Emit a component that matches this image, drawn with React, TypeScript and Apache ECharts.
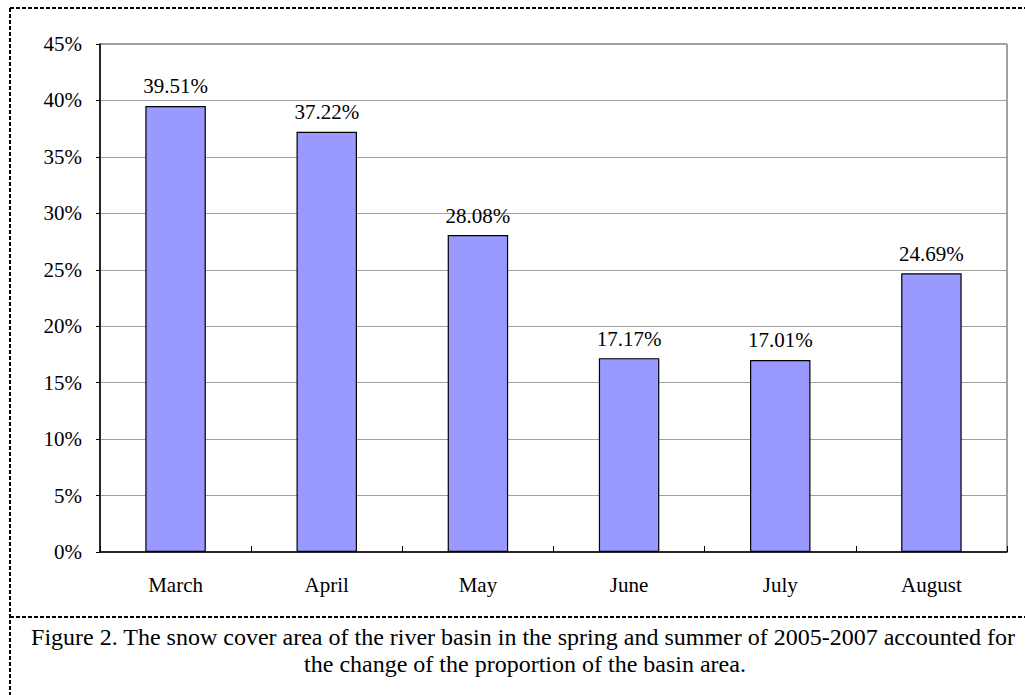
import React, { useEffect, useRef } from "react";
import * as echarts from "echarts";

const categories = ["March", "April", "May", "June", "July", "August"];
const values = [39.51, 37.22, 28.08, 17.17, 17.01, 24.69];
const captionLine1 =
  "Figure 2. The snow cover area of the river basin in the spring and summer of 2005-2007 accounted for";
const captionLine2 = "the change of the proportion of the basin area.";

const FONT = "Liberation Serif";
const CAP_SIZE = 24;

export default function App() {
  const ref = useRef<HTMLDivElement>(null);
  useEffect(() => {
    if (!ref.current) return;
    const chart = echarts.init(ref.current, null, { renderer: "svg" });
    const dash = { stroke: "#000", lineWidth: 2, lineDash: [4, 2] };
    const capStyle = {
      fontSize: CAP_SIZE,
      fontFamily: FONT,
      fill: "#000",
      align: "center",
      verticalAlign: "middle",
    };

    chart.setOption({
      animation: false,
      backgroundColor: "#fff",
      textStyle: { fontFamily: FONT },
      grid: {
        left: 100,
        right: 18,
        top: 44,
        bottom: 143,
        show: true,
        borderColor: "#404040",
        borderWidth: 1,
      },
      xAxis: {
        type: "category",
        data: categories,
        boundaryGap: true,
        axisLine: { lineStyle: { color: "#000", width: 1.5 } },
        axisTick: { show: true, inside: true, length: 6, alignWithLabel: false, lineStyle: { color: "#000" } },
        axisLabel: { color: "#000", fontSize: 21, fontFamily: FONT, margin: 22 },
        splitLine: { show: false },
      },
      yAxis: {
        type: "value",
        min: 0,
        max: 45,
        interval: 5,
        axisLine: { show: true, lineStyle: { color: "#000", width: 1.5 } },
        axisTick: { show: true, inside: false, length: 4, lineStyle: { color: "#000" } },
        axisLabel: {
          color: "#000",
          fontSize: 21,
          fontFamily: FONT,
          margin: 18,
          formatter: (v: number) => `${v}%`,
        },
        splitLine: { show: true, lineStyle: { color: "#a0a0a0", width: 1 } },
      },
      series: [
        {
          type: "bar",
          data: values,
          barWidth: "40%",
          itemStyle: { color: "#9999FF", borderColor: "#000", borderWidth: 1.2 },
          label: {
            show: true,
            position: "top",
            distance: 9,
            color: "#000",
            fontSize: 21,
            fontFamily: FONT,
            formatter: (p: any) => `${p.value.toFixed(2)}%`,
          },
        },
      ],
      graphic: [
        { type: "line", shape: { x1: 10, y1: 8, x2: 1025, y2: 8 }, style: dash, silent: true },
        { type: "line", shape: { x1: 10, y1: 8, x2: 10, y2: 695 }, style: dash, silent: true },
        { type: "line", shape: { x1: 10, y1: 617, x2: 1025, y2: 617 }, style: dash, silent: true },
        { type: "text", x: 523, y: 637, silent: true, style: { ...capStyle, text: captionLine1 } },
        { type: "text", x: 525, y: 664, silent: true, style: { ...capStyle, text: captionLine2 } },
      ],
    });
    return () => chart.dispose();
  }, []);
  return (
    <div
      ref={ref}
      style={{ position: "fixed", left: 0, top: 0, width: 1025, height: 695 }}
    />
  );
}
